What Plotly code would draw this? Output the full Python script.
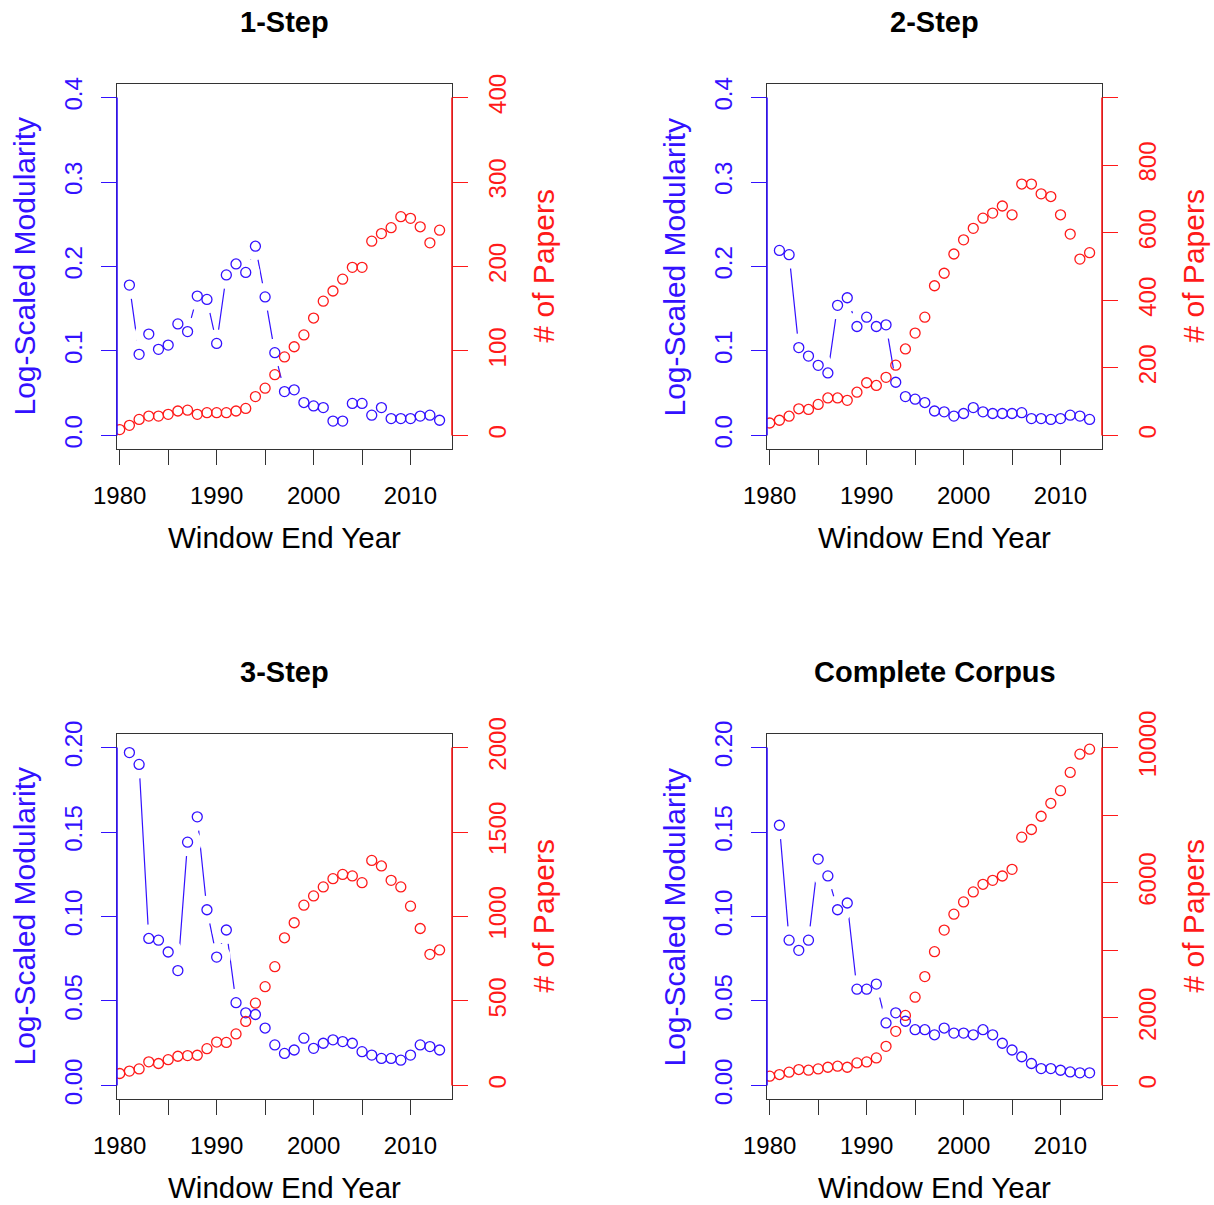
import plotly.graph_objects as go

# ---------------- data ----------------
years = list(range(1980, 2014))          # red series (# of papers)
mod_years = list(range(1981, 2014))      # blue series (modularity)

titles = ["1-Step", "2-Step", "3-Step", "Complete Corpus"]

mod_1 = [0.178, 0.096, 0.120, 0.102, 0.107, 0.132, 0.123, 0.165, 0.161, 0.109,
         0.190, 0.203, 0.193, 0.224, 0.164, 0.098, 0.052, 0.054, 0.039, 0.035,
         0.033, 0.017, 0.017, 0.038, 0.038, 0.024, 0.033, 0.020, 0.020, 0.020,
         0.023, 0.024, 0.018]
papers_1 = [7, 12, 19, 23, 23, 25, 29, 30, 25, 27, 27, 27, 29, 32, 46, 56, 72,
            93, 105, 119, 139, 159, 171, 185, 199, 199, 230, 239, 246, 259, 257,
            247, 228, 243]

mod_2 = [0.219, 0.214, 0.104, 0.094, 0.083, 0.074, 0.154, 0.163, 0.129, 0.140,
         0.129, 0.131, 0.063, 0.046, 0.043, 0.039, 0.029, 0.028, 0.023, 0.026,
         0.033, 0.028, 0.026, 0.026, 0.026, 0.027, 0.020, 0.020, 0.019, 0.020,
         0.024, 0.023, 0.019]
papers_2 = [37, 45, 57, 79, 77, 92, 111, 111, 104, 128, 156, 148, 172, 208, 256,
            303, 350, 443, 480, 537, 579, 613, 643, 658, 679, 653, 744, 744, 715,
            707, 653, 596, 522, 541]

mod_3 = [0.197, 0.190, 0.087, 0.086, 0.079, 0.068, 0.144, 0.159, 0.104, 0.076,
         0.092, 0.049, 0.043, 0.042, 0.034, 0.024, 0.019, 0.021, 0.028, 0.022,
         0.025, 0.027, 0.026, 0.025, 0.020, 0.018, 0.016, 0.016, 0.015, 0.018,
         0.024, 0.023, 0.021]
papers_3 = [71, 85, 98, 140, 130, 153, 173, 177, 179, 218, 257, 255, 305, 379,
            487, 585, 703, 874, 963, 1067, 1122, 1175, 1224, 1249, 1240, 1200,
            1332, 1299, 1214, 1175, 1061, 929, 776, 802]

mod_4 = [0.154, 0.086, 0.080, 0.086, 0.134, 0.124, 0.104, 0.108, 0.057, 0.057,
         0.060, 0.037, 0.043, 0.038, 0.033, 0.033, 0.030, 0.034, 0.031, 0.031,
         0.030, 0.033, 0.030, 0.025, 0.021, 0.017, 0.013, 0.010, 0.010, 0.009,
         0.008, 0.0075, 0.0075]
papers_4 = [275, 324, 393, 472, 452, 491, 540, 570, 540, 668, 697, 815, 1159,
            1601, 2073, 2613, 3222, 3959, 4597, 5069, 5432, 5727, 5953, 6071,
            6198, 6395, 7348, 7574, 7967, 8350, 8723, 9263, 9804, 9951]

x_tickvals = [1980, 1985, 1990, 1995, 2000, 2005, 2010]
x_ticktext = ["1980", "", "1990", "", "2000", "", "2010"]

left_tickvals = [[0, 0.1, 0.2, 0.3, 0.4], [0, 0.1, 0.2, 0.3, 0.4],
                 [0, 0.05, 0.10, 0.15, 0.20], [0, 0.05, 0.10, 0.15, 0.20]]
left_ticktext = [["0.0", "0.1", "0.2", "0.3", "0.4"], ["0.0", "0.1", "0.2", "0.3", "0.4"],
                 ["0.00", "0.05", "0.10", "0.15", "0.20"], ["0.00", "0.05", "0.10", "0.15", "0.20"]]
right_tickvals = [[0, 100, 200, 300, 400], [0, 200, 400, 600, 800, 1000],
                  [0, 500, 1000, 1500, 2000], [0, 2000, 4000, 6000, 8000, 10000]]
right_ticktext = [["0", "100", "200", "300", "400"], ["0", "200", "400", "600", "800", ""],
                  ["0", "500", "1000", "1500", "2000"], ["0", "2000", "", "6000", "", "10000"]]

mods = [mod_1, mod_2, mod_3, mod_4]
papers = [papers_1, papers_2, papers_3, papers_4]

# ---------------- style / layout ----------------
W, H = 1214, 1205
BLUE = "#3311ff"
RED = "#ff1a1a"
FONT = "Liberation Sans, Arial, Helvetica, sans-serif"
TICKF = 24
LABF = 30

boxes = [(117, 452, 84, 449), (767, 1102, 84, 449),
         (117, 452, 734, 1099), (767, 1102, 734, 1099)]

def fx(px):
    return px / W

def fy(py):
    return 1 - py / H

fig = go.Figure()
layout = dict(width=W, height=H, margin=dict(l=0, r=0, t=0, b=0, pad=0),
              autosize=False, paper_bgcolor="white", plot_bgcolor="white",
              showlegend=False, font=dict(family=FONT, color="black"))
shapes = []
annotations = []

for k in range(4):
    x0, x1, y0, y1 = boxes[k]
    xa = "x" if k == 0 else f"x{k+1}"
    yl = 2 * k + 1
    yr = 2 * k + 2
    yla = "y" if yl == 1 else f"y{yl}"
    yra = f"y{yr}"
    ltop = left_tickvals[k][-1]
    rtop = right_tickvals[k][-1]

    layout["xaxis" if k == 0 else f"xaxis{k+1}"] = dict(
        domain=[fx(x0), fx(x1)], anchor=yla, range=[1979.72, 2014.28],
        automargin=False, ticklabelstandoff=10,
        tickvals=x_tickvals, ticktext=x_ticktext, ticks="outside", ticklen=15,
        tickwidth=1.3, tickcolor="#333", showline=True, mirror=True,
        linecolor="#333", linewidth=1.3, showgrid=False, zeroline=False,
        tickfont=dict(size=TICKF, color="black", family=FONT))
    layout["yaxis" if yl == 1 else f"yaxis{yl}"] = dict(
        domain=[fy(y1), fy(y0)], anchor=xa, range=[-0.04 * ltop, 1.04 * ltop],
        automargin=False, ticklabelstandoff=9,
        tickvals=left_tickvals[k], ticktext=left_ticktext[k], ticks="outside",
        ticklen=15, tickwidth=1.3, tickcolor=BLUE, tickangle=-90,
        showline=True, mirror=True, linecolor="#333", linewidth=1.3,
        showgrid=False, zeroline=False,
        tickfont=dict(size=TICKF, color=BLUE, family=FONT))
    layout[f"yaxis{yr}"] = dict(
        domain=[fy(y1), fy(y0)], anchor=xa, overlaying=yla, side="right",
        range=[-0.04 * rtop, 1.04 * rtop], automargin=False, ticklabelstandoff=9,
        tickvals=right_tickvals[k], ticktext=right_ticktext[k], ticks="outside",
        ticklen=15, tickwidth=1.3, tickcolor=RED, tickangle=-90,
        showline=False, showgrid=False, zeroline=False,
        tickfont=dict(size=TICKF, color=RED, family=FONT))

    # coloured axis spines spanning the tick range
    shapes.append(dict(type="line", xref=f"{xa} domain", x0=0, x1=0,
                       yref=yla, y0=0, y1=ltop, line=dict(color=BLUE, width=1.6)))
    shapes.append(dict(type="line", xref=f"{xa} domain", x0=1, x1=1,
                       yref=yra, y0=0, y1=rtop, line=dict(color=RED, width=1.6)))

    # blue: line with gaps around points (R type="b")
    fig.add_trace(go.Scatter(x=mod_years, y=mods[k], xaxis=xa, yaxis=yla,
                             mode="lines", line=dict(color=BLUE, width=1.2),
                             hoverinfo="skip"))
    fig.add_trace(go.Scatter(x=mod_years, y=mods[k], xaxis=xa, yaxis=yla,
                             mode="markers", marker=dict(symbol="circle", size=28,
                             color="white", line=dict(width=0)), hoverinfo="skip"))
    fig.add_trace(go.Scatter(x=mod_years, y=mods[k], xaxis=xa, yaxis=yla,
                             mode="markers", marker=dict(symbol="circle-open", size=10,
                             color=BLUE, line=dict(width=1.3, color=BLUE))))
    # red: # of papers
    fig.add_trace(go.Scatter(x=years, y=papers[k], xaxis=xa, yaxis=yra,
                             mode="markers", marker=dict(symbol="circle-open", size=10,
                             color=RED, line=dict(width=1.3, color=RED))))

    cx = (x0 + x1) / 2
    cy = (y0 + y1) / 2
    annotations.append(dict(text=titles[k], x=fx(cx), y=fy(y0 - 62), xref="paper",
                            yref="paper", showarrow=False, xanchor="center",
                            yanchor="middle",
                            font=dict(size=29, family=FONT, color="black", weight="bold")))
    annotations.append(dict(text="Window End Year", x=fx(cx), y=fy(y1 + 88),
                            xref="paper", yref="paper", showarrow=False,
                            xanchor="center", yanchor="middle",
                            font=dict(size=29.5, family=FONT, color="black")))
    annotations.append(dict(text="Log-Scaled Modularity", x=fx(x0 - 93), y=fy(cy),
                            xref="paper", yref="paper", showarrow=False, textangle=-90,
                            xanchor="center", yanchor="middle",
                            font=dict(size=LABF, family=FONT, color=BLUE)))
    annotations.append(dict(text="# of Papers", x=fx(x1 + 91), y=fy(cy),
                            xref="paper", yref="paper", showarrow=False, textangle=-90,
                            xanchor="center", yanchor="middle",
                            font=dict(size=LABF, family=FONT, color=RED)))

layout["shapes"] = shapes
layout["annotations"] = annotations
fig.update_layout(**layout)
fig.write_html("out.html")
